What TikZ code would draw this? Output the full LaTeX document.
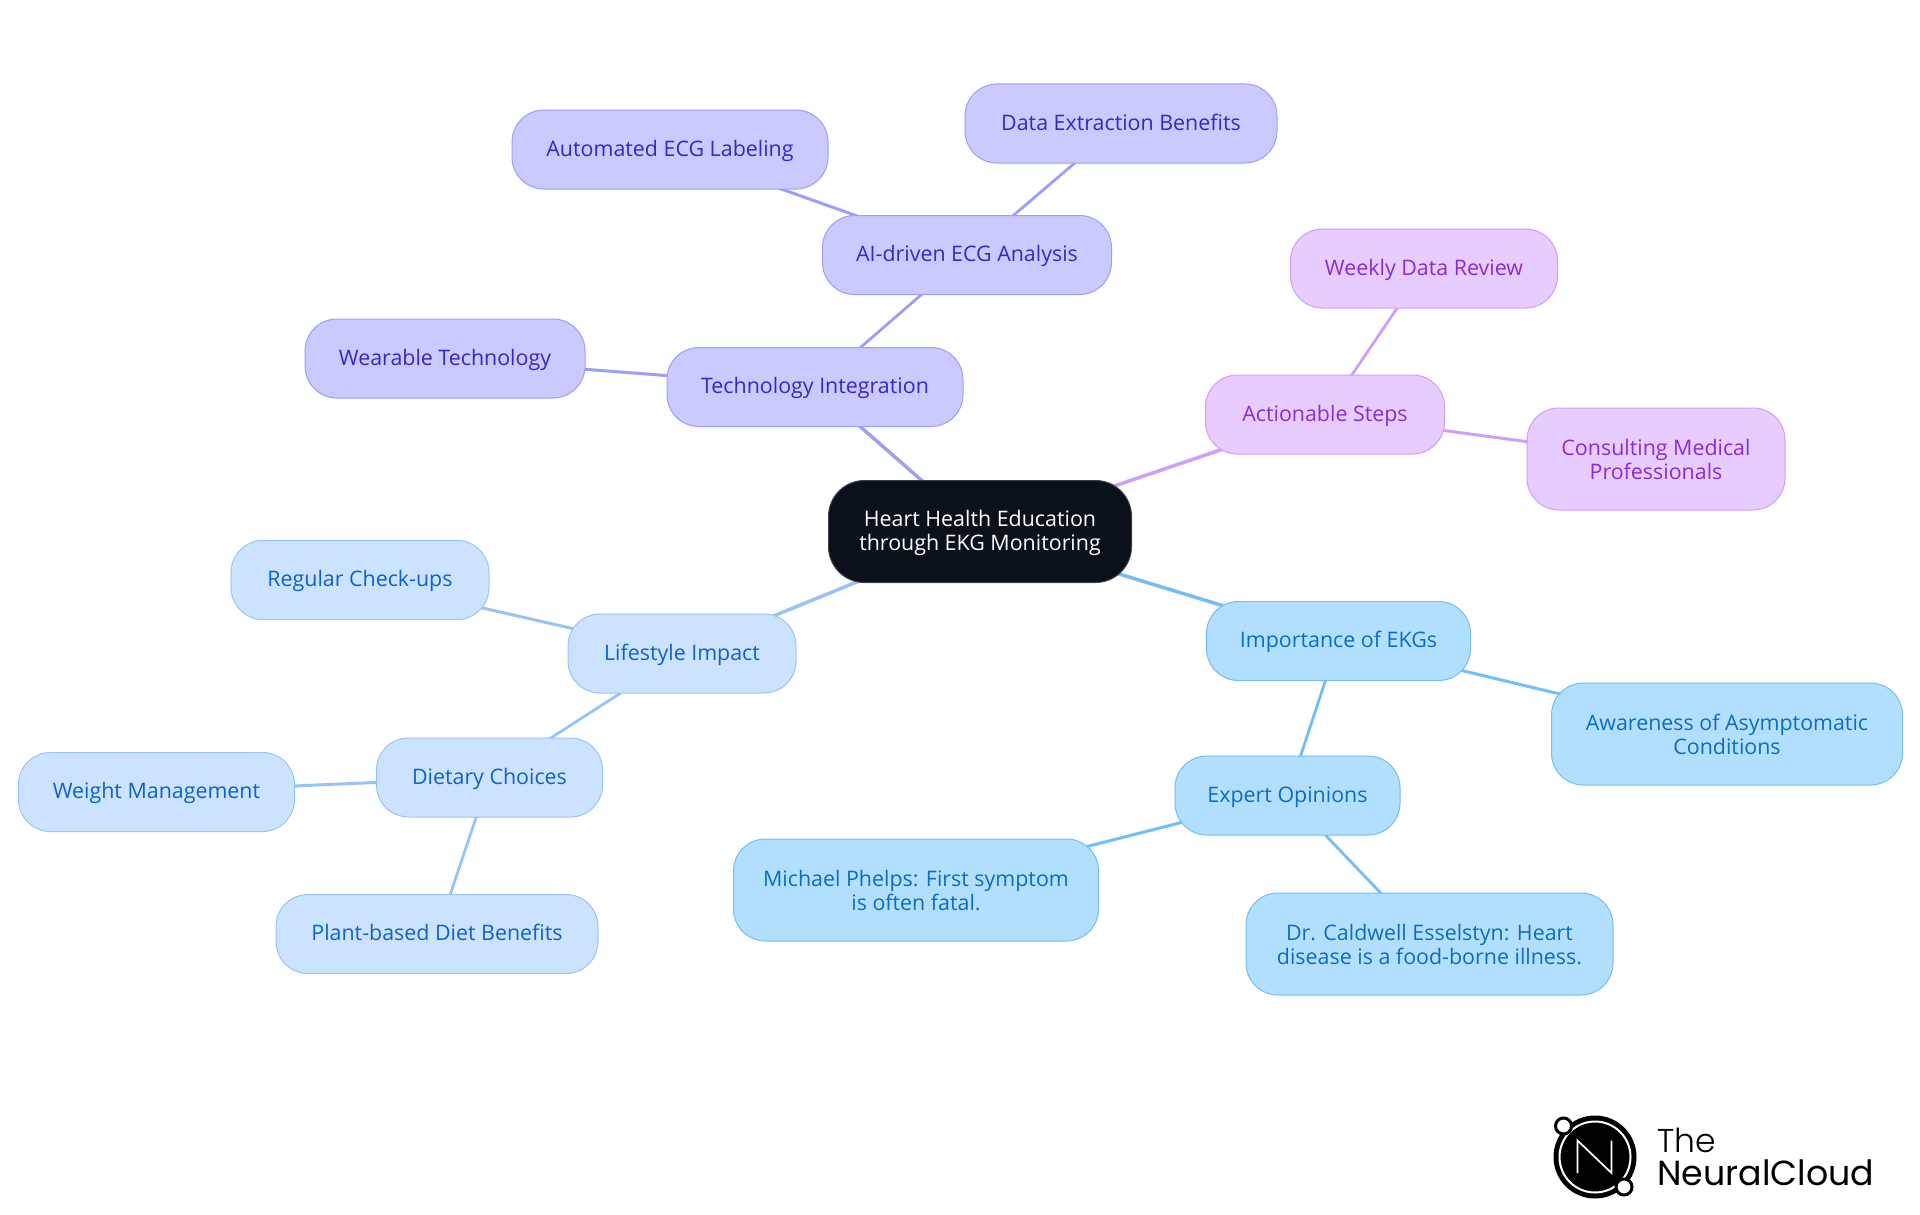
\documentclass[tikz,border=0pt]{standalone}
\usepackage{fontspec}
\setmainfont{Open Sans}
\newfontfamily\logofont{Poppins}
\newfontfamily\logolight{Poppins Light}
\definecolor{cCl}{HTML}{72BEF5}\definecolor{cCf}{HTML}{B3DFFF}\definecolor{cCt}{HTML}{0A6EC0}
\definecolor{bCl}{HTML}{98C4F5}\definecolor{bCf}{HTML}{CCE3FF}\definecolor{bCt}{HTML}{0F62CC}
\definecolor{iCl}{HTML}{9E9EF5}\definecolor{iCf}{HTML}{CACAFF}\definecolor{iCt}{HTML}{3528C4}
\definecolor{pCl}{HTML}{CF9EF5}\definecolor{pCf}{HTML}{E8CCFF}\definecolor{pCt}{HTML}{8A2BD6}
\definecolor{rootf}{HTML}{0B1119}
\pgfdeclarelayer{wires}\pgfsetlayers{wires,main}
\tikzset{
 box/.style={rounded corners=32pt,draw=#1Cl,fill=#1Cf,text=#1Ct,line width=1pt,align=center,inner sep=0pt,text height=18.5pt,text depth=5pt,font=\fontsize{21.4}{24}\selectfont},
 twolines/.style={text height=45pt,text depth=5pt},
 wire/.style={line width=3pt,draw=#1Cl},
 rootwire/.style={line width=3.5pt,draw=#1Cl},
 thinwire/.style={line width=2.8pt,draw=#1Cl},
 rootbox/.style={rounded corners=36pt,draw=rootf!80!white,fill=rootf,text=white,line width=1pt,align=center,inner sep=0pt,text height=42.5pt,text depth=5pt,font=\fontsize{21.4}{24}\selectfont},
 logoN/.style={draw=white,line width=1.7pt,line join=miter},
 logodot/.style={circle,draw=black,fill=white,line width=3pt,minimum size=16pt,inner sep=0pt},
 logotext/.style={anchor=base west,inner sep=0pt,text=black},
}
\newcommand{\bx}[7]{\node[box=#1,minimum width=#5pt,minimum height=#6pt] (#2) at (#3,#4) {#7};}
\newcommand{\bxx}[7]{\node[box=#1,twolines,minimum width=#5pt,minimum height=#6pt] (#2) at (#3,#4) {#7};}
\begin{document}
\begin{tikzpicture}[y=-1pt,x=1pt]
\useasboundingbox (0,0) rectangle (1920,1215);
\bx{i}{tech}{815}{387}{296}{79}{Technology Integration}
\bx{i}{ai}{967}{255}{289}{79}{AI-driven ECG Analysis}
\bx{i}{data}{1121}{123.5}{312}{79}{Data Extraction Benefits}
\bx{i}{auto}{670}{149.5}{316}{79}{Automated ECG Labeling}
\bx{i}{wear}{445}{358.5}{280}{79}{Wearable Technology}
\bx{p}{act}{1325}{414.5}{239}{79}{Actionable Steps}
\bx{p}{week}{1424}{268.5}{267}{79}{Weekly Data Review}
\bxx{p}{cons}{1656}{459}{258}{102}{Consulting Medical\\Professionals}
\bx{c}{imp}{1338.5}{641}{264}{79}{Importance of EKGs}
\bxx{c}{aware}{1727}{734}{351}{102}{Awareness of Asymptomatic\\Conditions}
\bx{c}{exp}{1287.5}{795.5}{225}{79}{Expert Opinions}
\bxx{c}{mic}{916}{890}{365}{102}{Michael Phelps: First symptom\\is often fatal.}
\bxx{c}{dr}{1429.5}{944}{367}{102}{Dr. Caldwell Esselstyn: Heart\\disease is a food-borne illness.}
\bx{b}{life}{682}{653.5}{228}{79}{Lifestyle Impact}
\bx{b}{reg}{360}{580}{258}{79}{Regular Check-ups}
\bx{b}{diet}{489.5}{777.5}{226}{79}{Dietary Choices}
\bx{b}{wgt}{156.5}{792}{276}{79}{Weight Management}
\bx{b}{plant}{437}{934}{322}{79}{Plant-based Diet Benefits}
\node[rootbox,minimum width=303pt,minimum height=102pt] (root) at (980,531.5) {Heart Health Education\\through EKG Monitoring};
\begin{pgfonlayer}{wires}
\fill[white] (0,0) rectangle (1920,1215);
\draw[rootwire=i] (root.center) -- (tech.center);
\draw[rootwire=p] (root.center) -- (act.center);
\draw[rootwire=c] (root.center) -- (imp.center);
\draw[rootwire=b] (root.center) -- (life.center);
\draw[thinwire=i] (tech.center) -- (ai.center);
\draw[wire=i] (tech.center) -- (wear.center);
\draw[thinwire=i] (ai.center) -- (data.center);
\draw[wire=i] (ai.center) -- (auto.center);
\draw[thinwire=p] (act.center) -- (week.center);
\draw[wire=p] (act.center) -- (cons.center);
\draw[wire=c] (imp.center) -- (aware.center);
\draw[thinwire=c] (imp.center) -- (exp.center);
\draw[wire=c] (exp.center) -- (mic.center);
\draw[thinwire=c] (exp.center) -- (dr.center);
\draw[wire=b] (life.center) -- (reg.center);
\draw[thinwire=b] (life.center) -- (diet.center);
\draw[wire=b] (diet.center) -- (wgt.center);
\draw[thinwire=b] (diet.center) -- (plant.center);
\end{pgfonlayer}
% logo
\fill[black] (1595,1157) circle (41.5);
\draw[white,line width=2pt] (1595,1157) circle (35.5);
\draw[logoN] (1577.5,1173) -- (1577.5,1140.5) -- (1611.5,1173) -- (1611.5,1140.5);
\node[logodot] (logoa) at (1563.5,1126) {};
\node[logodot] (logob) at (1624,1187) {};
\node[logotext,font=\logolight\fontsize{33}{33}\selectfont] (logothe) at (1657,1152) {The};
\node[logotext,font=\logofont\fontsize{34.8}{33}\selectfont] (logonc) at (1657,1185) {NeuralCloud};
\end{tikzpicture}
\end{document}
